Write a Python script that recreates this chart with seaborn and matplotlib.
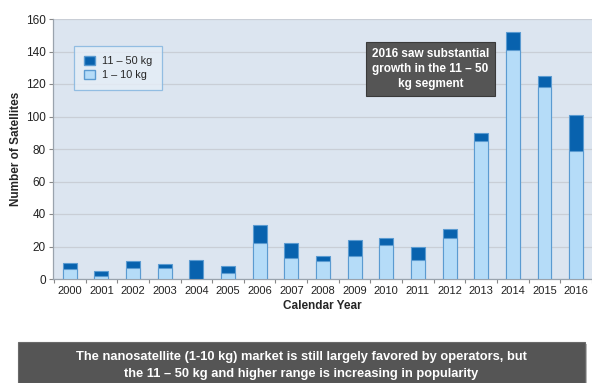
import matplotlib
matplotlib.use("Agg")
import matplotlib.pyplot as plt
from matplotlib.patches import FancyBboxPatch, Patch
import seaborn as sns
import pandas as pd

years = ["2000", "2001", "2002", "2003", "2004", "2005", "2006", "2007", "2008",
         "2009", "2010", "2011", "2012", "2013", "2014", "2015", "2016"]
small_1_10 = [6, 2, 7, 7, 0, 4, 22, 13, 11, 14, 21, 12, 25, 85, 141, 118, 79]
mid_11_50 = [4, 3, 4, 2, 12, 4, 11, 9, 3, 10, 4, 8, 6, 5, 11, 7, 22]
legend_labels = ["11 \u2013 50 kg", "1 \u2013 10 kg"]
y_ticks = [0, 20, 40, 60, 80, 100, 120, 140, 160]

df = pd.DataFrame({"year": years, "small": small_1_10, "mid": mid_11_50})
df["total"] = df["small"] + df["mid"]

sns.set_theme(style="white")
plt.rcParams["font.family"] = ["Liberation Sans", "DejaVu Sans"]

dark = "#0862ae"
light = "#b5dcf8"
edge = "#5b9bd1"

fig = plt.figure(figsize=(5.92, 3.83), dpi=100)
fig.patch.set_facecolor("white")
ax = fig.add_axes([53 / 592, 1 - 279 / 383, 1 - 53 / 592, (279 - 19) / 383])
ax.set_facecolor("#dce5f0")

sns.barplot(data=df, x="year", y="total", color=dark, width=0.44,
            edgecolor=edge, linewidth=0.8, saturation=1, ax=ax, zorder=3)
sns.barplot(data=df, x="year", y="small", color=light, width=0.44,
            edgecolor=edge, linewidth=0.8, saturation=1, ax=ax, zorder=4)

ax.set_ylim(0, 160)
ax.set_xlim(-0.53, 16.43)
ax.set_yticks(y_ticks)
ax.set_yticklabels([str(v) for v in y_ticks], fontsize=8.5, color="#222222")
ax.tick_params(axis="x", labelsize=8, colors="#222222", length=0, pad=5)
ax.tick_params(axis="y", length=3, width=0.8, color="#888888", left=True, pad=2)
ax.set_xticks(range(len(years)), minor=False)
ax.set_xticks([i + 0.5 for i in range(-1, len(years))], minor=True)
ax.tick_params(axis="x", which="minor", length=3, width=0.8, color="#888888", bottom=True)
ax.yaxis.grid(True, color="#c9ced6", linewidth=0.9, zorder=0)
ax.set_axisbelow(True)
for s in ["top", "right"]:
    ax.spines[s].set_visible(False)
for s in ["left", "bottom"]:
    ax.spines[s].set_color("#9aa3ad")
    ax.spines[s].set_linewidth(0.9)

ax.set_xlabel("Calendar Year", fontsize=8.5, fontweight="bold", labelpad=3)
ax.set_ylabel("Number of Satellites", fontsize=8.5, fontweight="bold", labelpad=3)

handles = [Patch(facecolor=dark, edgecolor=edge), Patch(facecolor=light, edgecolor=edge)]
leg = ax.legend(handles, legend_labels, loc="upper left", bbox_to_anchor=(0.039, 0.896),
                fontsize=7.8, frameon=True, fancybox=False, handlelength=1.0,
                handleheight=1.0, borderpad=0.9, labelspacing=0.3, handletextpad=0.7,
                borderaxespad=0)
leg.get_frame().set_facecolor("#e6eef7")
leg.get_frame().set_edgecolor("#7fb3de")
leg.get_frame().set_linewidth(0.9)

ax.text(0.70, 0.808, "2016 saw substantial\ngrowth in the 11 \u2013 50\nkg segment",
        transform=ax.transAxes, ha="center", va="center", color="white",
        fontsize=8.5, fontweight="bold", linespacing=1.35, zorder=10,
        bbox=dict(boxstyle="square,pad=0.5", facecolor="#555555",
                  edgecolor="#3a3a3a", linewidth=0.8))

shadow = FancyBboxPatch((20 / 592, 0), (587 - 20) / 592, (383 - 344) / 383,
                        boxstyle="square,pad=0", transform=fig.transFigure,
                        facecolor="#bbbbbb", edgecolor="none")
fig.patches.append(shadow)
box = FancyBboxPatch((18 / 592, 0), (585 - 18) / 592, (383 - 342) / 383,
                     boxstyle="square,pad=0", transform=fig.transFigure,
                     facecolor="#555555", edgecolor="#6a6a6a", linewidth=0.8)
fig.patches.append(box)
fig.text(301 / 592, 1 - 365.5 / 383,
         "The nanosatellite (1-10 kg) market is still largely favored by operators, but\n"
         "the 11 \u2013 50 kg and higher range is increasing in popularity",
         ha="center", va="center", color="white", fontsize=9.3, fontweight="bold",
         linespacing=1.45)

fig.savefig("out.png", dpi=100)
